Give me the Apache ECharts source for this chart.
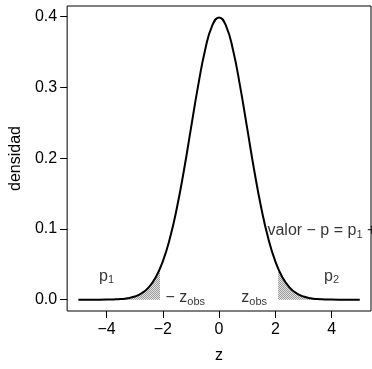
<!DOCTYPE html>
<html><head><meta charset="utf-8">
<script src="https://cdn.jsdelivr.net/npm/echarts@6/dist/echarts.min.js"></script>
<style>html,body{margin:0;padding:0;background:#fff}#c{width:372px;height:369px}</style>
</head><body><div id="c"></div>
<script>
// density curve values
const zVals = [-5,-4.75,-4.5,-4.25,-4,-3.75,-3.5,-3.25,-3,-2.75,-2.5,-2.25,-2,-1.75,-1.5,-1.25,-1,-0.75,-0.5,-0.25,0,0.25,0.5,0.75,1,1.25,1.5,1.75,2,2.25,2.5,2.75,3,3.25,3.5,3.75,4,4.25,4.5,4.75,5];
const dens = [0,0,0,0,0.0001,0.0004,0.0009,0.002,0.0044,0.0091,0.0175,0.0317,0.054,0.0863,0.1295,0.1826,0.242,0.3011,0.3521,0.3867,0.3989,0.3867,0.3521,0.3011,0.242,0.1826,0.1295,0.0863,0.054,0.0317,0.0175,0.0091,0.0044,0.002,0.0009,0.0004,0.0001,0,0,0,0];
// observed statistic and its density
const zObs = 2.1;
const densAtZObs = 0.044;
const xTicks = [-4,-2,0,2,4];
const yTicks = [0,0.1,0.2,0.3,0.4];
const annoX = [-4, 4, -1.2, 1.25, 4];
const annoY = [0.033, 0.033, 0.003, 0.003, 0.097];
const annoText = ['p{s|1}', 'p{s|2}', '\u2212 z{s|obs}', 'z{s|obs}', 'valor \u2212 p = p{s|1} + p{s|2}'];

const curve = zVals.map((z,i)=>[z,dens[i]]);
const leftTail = curve.filter(p=>p[0] < -zObs).concat([[-zObs, densAtZObs]]);
const rightTail = [[zObs, densAtZObs]].concat(curve.filter(p=>p[0] > zObs));

// fine hatch pattern
const pc = document.createElement('canvas');
pc.width = 2; pc.height = 2;
const g = pc.getContext('2d');
g.fillStyle = '#e2e2e2'; g.fillRect(0,0,2,2);
g.fillStyle = '#9a9a9a'; g.fillRect(0,0,1,1); g.fillRect(1,1,1,1);

const font = 'Liberation Sans, Arial, sans-serif';
const fs = 16;
const chart = echarts.init(document.getElementById('c'));
chart.setOption({
  animation: false,
  grid: {left: 63, right: 1, top: 6, bottom: 56, show: true, borderColor: '#000', borderWidth: 1},
  xAxis: {
    type: 'value', min: -5.4, max: 5.4,
    name: 'z', nameLocation: 'middle', nameGap: 37,
    nameTextStyle: {fontFamily: font, fontSize: fs, color: '#000'},
    axisLine: {show: false, onZero: false}, splitLine: {show: false},
    axisTick: {show: true, inside: false, length: 7, customValues: xTicks, lineStyle: {color: '#000'}},
    axisLabel: {customValues: xTicks, margin: 11, fontFamily: font, fontSize: fs, color: '#000',
      formatter: v => (v < 0 ? '\u2212' + Math.abs(v) : String(v))}
  },
  yAxis: {
    type: 'value', min: -0.016, max: 0.415,
    name: 'densidad', nameLocation: 'middle', nameGap: 40, nameRotate: 90,
    nameTextStyle: {fontFamily: font, fontSize: fs, color: '#000'},
    axisLine: {show: false, onZero: false}, splitLine: {show: false},
    axisTick: {show: true, length: 7, customValues: yTicks, lineStyle: {color: '#000'}},
    axisLabel: {customValues: yTicks, margin: 10, fontFamily: font, fontSize: fs, color: '#000',
      formatter: v => v.toFixed(1)}
  },
  series: [
    {type: 'line', data: leftTail, showSymbol: false, smooth: false,
     lineStyle: {width: 0.8, color: '#888'}, areaStyle: {color: {image: pc, repeat: 'repeat'}, opacity: 1}},
    {type: 'line', data: rightTail, showSymbol: false, smooth: false,
     lineStyle: {width: 0.8, color: '#888'}, areaStyle: {color: {image: pc, repeat: 'repeat'}, opacity: 1}},
    {type: 'line', data: curve, showSymbol: false, smooth: true,
     lineStyle: {width: 2, color: '#000'}},
    {type: 'scatter', symbolSize: 0, silent: true,
     data: annoX.map((x,i)=>({value: [x, annoY[i]], label: {formatter: annoText[i]}})),
     label: {show: true, position: 'inside', color: '#000', fontFamily: font, fontSize: fs,
       rich: {s: {fontSize: 11, fontFamily: font, color: '#000', padding: [8,0,0,0]}}}}
  ]
});
</script></body></html>
